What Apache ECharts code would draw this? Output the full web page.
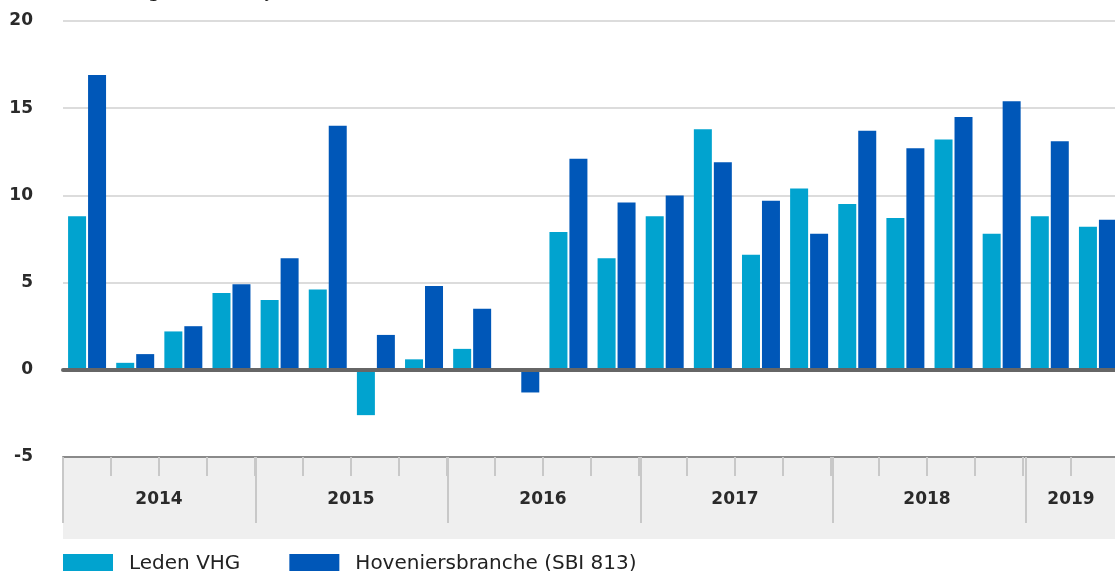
<!DOCTYPE html>
<html>
<head>
<meta charset="utf-8">
<title>Omzetontwikkeling hoveniers</title>
<script src="https://cdn.jsdelivr.net/npm/echarts@6/dist/echarts.min.js"></script>
<style>
    html, body { margin: 0; padding: 0; background: #fff; overflow: hidden; }
    /* iets breder dan het venster: de laatste kwartaalbalk valt net buiten beeld */
    #chart { width: 1122px; height: 571px; }
</style>
</head>
<body>
<div id="chart"></div>
<script>
// kwartalen 2014 K1 t/m 2019 K2
const quarters = [
    '2014 K1', '2014 K2', '2014 K3', '2014 K4',
    '2015 K1', '2015 K2', '2015 K3', '2015 K4',
    '2016 K1', '2016 K2', '2016 K3', '2016 K4',
    '2017 K1', '2017 K2', '2017 K3', '2017 K4',
    '2018 K1', '2018 K2', '2018 K3', '2018 K4',
    '2019 K1', '2019 K2'
]
const ledenVHG = [8.8, 0.4, 2.2, 4.4, 4.0, 4.6, -2.6, 0.6, 1.2, 0, 7.9, 6.4, 8.8, 13.8, 6.6, 10.4, 9.5, 8.7, 13.2, 7.8, 8.8, 8.2]
const hoveniers = [16.9, 0.9, 2.5, 4.9, 6.4, 14.0, 2.0, 4.8, 3.5, -1.3, 12.1, 9.6, 10.0, 11.9, 9.7, 7.8, 13.7, 12.7, 14.5, 15.4, 13.1, 8.6]
// jaartallen, geplaatst midden onder de kwartalen van dat jaar
const yearLabels = ['2014', '2015', '2016', '2017', '2018', '2019']
const yearLabelPos = [2, 6, 10, 14, 18, 21]
const yTicks = [-5, 0, 5, 10, 15, 20]

const FONT = 'DejaVu Sans'
const myChart = echarts.init(document.getElementById('chart'))

// band onder de grafiek: zelfde maten voor achtergrond en beide tick-assen
const band = { left: 63, right: 0, top: 457, height: 82 }

myChart.setOption({
    animation: false,
    title: {
        text: 'Ontwikkeling t.o.v. een jaar eerder',
        left: 26,
        top: -23,
        textStyle: { fontFamily: FONT, fontSize: 20, fontWeight: 'normal', color: '#111' }
    },
    legend: {
        left: 58,
        top: 549,
        itemWidth: 50,
        itemHeight: 20,
        itemGap: 49,
        icon: 'rect',
        textStyle: { fontFamily: FONT, fontSize: 20, color: '#222', padding: [0, 0, 0, 11] },
        data: ['Leden VHG', 'Hoveniersbranche (SBI 813)']
    },
    grid: [
        { left: 63, right: 0, top: 21, height: 436 },
        Object.assign({ show: true, backgroundColor: '#efefef', borderWidth: 0 }, band),
        Object.assign({}, band)
    ],
    xAxis: [
        {
            type: 'category',
            data: quarters,
            z: 5,
            axisLine: { onZero: true, lineStyle: { color: '#666', width: 4 } },
            axisTick: { show: false },
            axisLabel: { show: false }
        },
        {
            // kwartaalstreepjes + jaartallen
            type: 'value',
            gridIndex: 1,
            position: 'top',
            min: 0,
            max: quarters.length,
            interval: 1,
            splitLine: { show: false },
            axisLine: { show: true, onZero: false, lineStyle: { color: '#8a8a8a', width: 2 } },
            axisTick: { show: true, inside: true, length: 19, lineStyle: { color: '#c8c8c8', width: 2 } },
            axisLabel: {
                inside: true,
                margin: 34,
                fontFamily: FONT,
                fontSize: 17,
                fontWeight: 'bold',
                color: '#2a2a2a',
                showMinLabel: true,
                showMaxLabel: true,
                formatter: (v) => {
                    const i = yearLabelPos.indexOf(v)
                    return i >= 0 ? yearLabels[i] : ''
                }
            }
        },
        {
            // jaargrenzen
            type: 'value',
            gridIndex: 2,
            position: 'top',
            min: 0,
            max: quarters.length,
            interval: 4,
            splitLine: { show: false },
            axisLine: { show: false, onZero: false },
            axisTick: { show: true, inside: true, length: 66, lineStyle: { color: '#c8c8c8', width: 2 } },
            axisLabel: { show: false }
        }
    ],
    yAxis: [
        {
            type: 'value',
            min: yTicks[0],
            max: yTicks[yTicks.length - 1],
            interval: 5,
            axisLine: { show: false },
            axisTick: { show: false },
            splitLine: { show: true, lineStyle: { color: '#dcdcdc', width: 2 } },
            axisLabel: { margin: 30, fontFamily: FONT, fontSize: 17, fontWeight: 'bold', color: '#2a2a2a' }
        },
        { type: 'value', gridIndex: 1, min: 0, max: 1, show: false },
        { type: 'value', gridIndex: 2, min: 0, max: 1, show: false }
    ],
    series: [
        {
            name: 'Leden VHG',
            type: 'bar',
            barWidth: 18,
            barGap: '11%',
            itemStyle: { color: '#01a3cf' },
            data: ledenVHG
        },
        {
            name: 'Hoveniersbranche (SBI 813)',
            type: 'bar',
            barWidth: 18,
            barGap: '11%',
            itemStyle: { color: '#0057b8' },
            data: hoveniers
        }
    ]
})
</script>
</body>
</html>
